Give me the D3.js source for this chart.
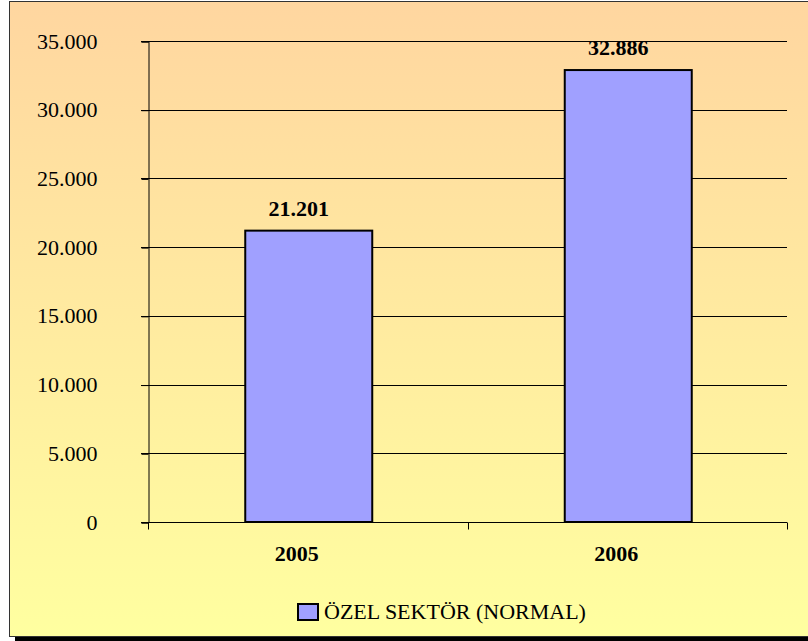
<!DOCTYPE html>
<html>
<head>
<meta charset="utf-8">
<script src="https://cdn.jsdelivr.net/npm/d3@7"></script>
<style>
  body { margin: 0; background: #fff; }
  svg { display: block; }
</style>
</head>
<body>
<div id="chart"></div>
<script>
// chart data
var years = ["2005", "2006"];
var values = [21201, 32886];
var yTicks = [0, 5000, 10000, 15000, 20000, 25000, 30000, 35000];
var seriesName = "ÖZEL SEKTÖR (NORMAL)";

var W = 808, H = 641;
var margin = {top: 41, right: 21, bottom: 119, left: 148};
var FONT = "'Liberation Serif'";

var svg = d3.select("#chart").append("svg")
    .attr("width", W)
    .attr("height", H);

// background gradient, peach at top to pale yellow at bottom
var grad = svg.append("defs").append("linearGradient")
    .attr("id", "bg")
    .attr("x1", 0).attr("y1", 0).attr("x2", 0).attr("y2", 1);
grad.append("stop").attr("offset", "0%").attr("stop-color", "#ffd6a0");
grad.append("stop").attr("offset", "100%").attr("stop-color", "#ffffa0");

// shadow + frame
svg.append("rect").attr("x", 15).attr("y", 7).attr("width", W).attr("height", H)
    .attr("fill", "#000");
svg.append("rect").attr("x", 9.5).attr("y", 1.5).attr("width", W).attr("height", 635)
    .attr("fill", "url(#bg)")
    .attr("stroke", "#333").attr("stroke-width", 1);

var fmt = function(v) {
  return v === 0 ? "0" : d3.format(",")(v).replace(/,/g, ".");
};

var x = d3.scaleBand().domain(years).range([margin.left, W - margin.right]);
var y = d3.scaleLinear().domain([0, 35000]).range([H - margin.bottom, margin.top]);

// gridlines
svg.append("g").selectAll("line").data(yTicks.filter(d => d > 0)).enter()
    .append("line")
    .attr("x1", margin.left - 7).attr("x2", W - margin.right)
    .attr("y1", d => Math.round(y(d)) + 0.5).attr("y2", d => Math.round(y(d)) + 0.5)
    .attr("stroke", "#000").attr("stroke-width", 1);

// y axis
var yAxis = svg.append("g")
    .attr("transform", "translate(" + (margin.left + 0.5) + ",0.5)")
    .call(d3.axisLeft(y).tickValues(yTicks).tickSize(7).tickFormat(fmt));
yAxis.select(".domain").attr("stroke", "#000");
yAxis.selectAll("text")
    .attr("x", -51).attr("dy", "0.3em")
    .style("font-family", FONT).style("font-size", "22px").attr("fill", "#000");

// bars
var bw = 127;
svg.append("g").selectAll("rect").data(years).enter()
    .append("rect")
    .attr("x", (d) => x(d) + x.bandwidth() / 2 - bw / 2 + 1)
    .attr("y", (d, i) => y(values[i]))
    .attr("width", bw)
    .attr("height", (d, i) => y(0) - y(values[i]))
    .attr("fill", "#a0a0ff")
    .attr("stroke", "#000").attr("stroke-width", 2);

// value labels
svg.append("g").selectAll("text").data(years).enter()
    .append("text")
    .attr("x", (d, i) => x(d) + x.bandwidth() / 2 - 9)
    .attr("y", (d, i) => y(values[i]) - 15)
    .attr("text-anchor", "middle")
    .style("font-family", FONT).style("font-size", "22px").style("font-weight", "bold")
    .text((d, i) => fmt(values[i]));

// x axis
var xAxis = svg.append("g")
    .attr("transform", "translate(0," + (Math.round(y(0)) + 0.5) + ")");
xAxis.append("line")
    .attr("x1", margin.left - 7).attr("x2", W - margin.right)
    .attr("stroke", "#000");
xAxis.selectAll(".tk").data([margin.left, margin.left + x.bandwidth(), W - margin.right]).enter()
    .append("line")
    .attr("x1", d => Math.round(d) + 0.5).attr("x2", d => Math.round(d) + 0.5)
    .attr("y1", 0).attr("y2", 7)
    .attr("stroke", "#000");
xAxis.selectAll("text").data(years).enter()
    .append("text")
    .attr("x", d => x(d) + x.bandwidth() / 2 - 11)
    .attr("y", 38)
    .attr("text-anchor", "middle")
    .style("font-family", FONT).style("font-size", "22px").style("font-weight", "bold")
    .text(d => d);

// legend
var lg = svg.append("g").attr("transform", "translate(298,604)");
lg.append("rect").attr("width", 20).attr("height", 16)
    .attr("fill", "#a0a0ff").attr("stroke", "#000").attr("stroke-width", 2);
lg.append("text").attr("x", 26).attr("y", 15)
    .style("font-family", FONT).style("font-size", "22px")
    .text(seriesName);
</script>
</body>
</html>
